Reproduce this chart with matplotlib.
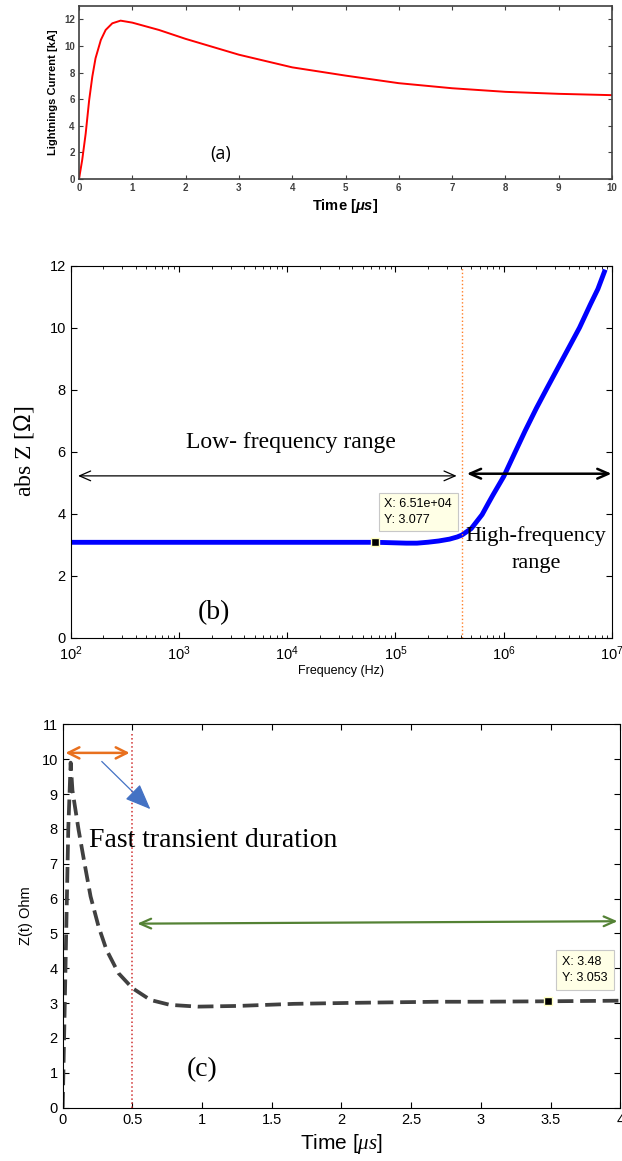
import matplotlib
matplotlib.use("Agg")
import matplotlib.pyplot as plt
import numpy as np

plt.rcParams["mathtext.fontset"] = "custom"
plt.rcParams["mathtext.rm"] = "Liberation Sans"
plt.rcParams["mathtext.it"] = "Liberation Serif:italic"
plt.rcParams["mathtext.bf"] = "Liberation Sans:bold:italic"
plt.rcParams["font.family"] = "Liberation Sans"

# (a) lightning current
t_a = [0, 0.06, 0.125, 0.19, 0.25, 0.31, 0.41, 0.5, 0.625, 0.78, 1.0, 1.5,
       2.0, 3.0, 4.0, 5.0, 6.0, 7.0, 8.0, 9.0, 10.0]
i_a = [0, 1.43, 3.4, 5.9, 7.7, 9.07, 10.45, 11.2, 11.7, 11.9, 11.75, 11.2,
       10.53, 9.34, 8.39, 7.77, 7.2, 6.82, 6.55, 6.4, 6.3]

# (b) impedance vs frequency
f_b = [1e2, 1e3, 1e4, 6.51e4, 7.94e4, 1e5, 1.26e5, 1.58e5, 2e5, 2.51e5, 3.16e5,
       3.72e5, 4.1e5, 5.01e5, 6.31e5, 7.24e5, 7.94e5, 8.91e5, 1e6, 1.26e6,
       1.58e6, 2e6, 2.51e6, 3.16e6, 3.98e6, 5.01e6, 6.31e6, 7.41e6, 8.5e6]
z_b = [3.077, 3.077, 3.077, 3.077, 3.07, 3.06, 3.05, 3.05, 3.08, 3.12, 3.18,
       3.25, 3.31, 3.52, 3.97, 4.35, 4.6, 4.9, 5.2, 5.95,
       6.68, 7.4, 8.05, 8.7, 9.35, 10.0, 10.75, 11.25, 11.8]

# (c) transient impedance
t_c = [0, 0.02, 0.04, 0.057, 0.07, 0.114, 0.157, 0.2, 0.257, 0.314, 0.4, 0.5,
       0.63, 0.77, 0.97, 1.26, 1.66, 2.11, 2.69, 2.97, 3.48, 4.0]
z_c = [0, 4.0, 8.0, 9.9, 9.1, 7.97, 7.0, 6.06, 5.2, 4.53, 3.86, 3.43,
       3.09, 2.95, 2.9, 2.92, 2.98, 3.01, 3.04, 3.04, 3.053, 3.07]

fig = plt.figure(figsize=(6.22, 11.61), dpi=100)

# ---------- panel (a) ----------
ax1 = fig.add_axes([79 / 622, 1 - 179 / 1161, (612 - 79) / 622, (179 - 6) / 1161])
ax1.plot(t_a, i_a, color="red", lw=1.4)
ax1.set_xlim(0, 10)
ax1.set_ylim(0, 13)
ax1.set_xticks(range(0, 11))
ax1.set_yticks(range(0, 13, 2))
ax1.tick_params(direction="in", top=True, right=True, length=3, width=0.8,
                labelsize=7, colors="#404040", pad=3)
for lab in ax1.get_xticklabels() + ax1.get_yticklabels():
    lab.set_fontweight("bold")
for sp in ax1.spines.values():
    sp.set_color("#404040")
    sp.set_linewidth(1.2)
ax1.set_ylabel("Lightnings Current [kA]", fontsize=8, fontweight="bold", labelpad=4)
ax1.set_xlabel(r"Time [$\mathbf{\mu s}$]", fontsize=10.5, fontweight="bold", labelpad=3)
ax1.text(2.65, 1.87, "(a)", fontsize=13, ha="center", va="center", family="Open Sans")

# ---------- panel (b) ----------
ax2 = fig.add_axes([70.7 / 622, 1 - 637.7 / 1161, (612 - 70.7) / 622, (637.7 - 265.7) / 1161])
ax2.semilogx(f_b, z_b, color="#0000ff", lw=3.5)
ax2.set_xlim(1e2, 1e7)
ax2.set_ylim(0, 12)
ax2.set_yticks(range(0, 13, 2))
ax2.tick_params(which="both", direction="in", top=True, right=True, labelsize=10.5)
ax2.tick_params(which="major", length=4)
ax2.tick_params(which="minor", length=2.5)
ax2.tick_params(axis="x", pad=5)
ax2.set_xlabel("Frequency (Hz)", fontsize=9, labelpad=1)
ax2.set_ylabel(r"abs Z [$\Omega$]", fontsize=17, family="Liberation Serif", labelpad=10)
ax2.axvline(4.1e5, color="#ff7f27", ls=":", lw=1)
ax2.annotate("", xy=(1.1e2, 5.22), xytext=(3.9e5, 5.22),
             arrowprops=dict(arrowstyle="<->,head_length=0.8,head_width=0.35", color="black", lw=0.9))
ax2.annotate("", xy=(4.3e5, 5.29), xytext=(1.05e7, 5.29),
             arrowprops=dict(arrowstyle="<->,head_length=0.8,head_width=0.35", color="black", lw=1.8),
             annotation_clip=False)
ax2.text(10 ** 4.03, 6.3, "Low- frequency range", fontsize=17, family="Liberation Serif",
         ha="center", va="center")
ax2.text(10 ** 6.3, 2.85, "High-frequency\nrange", fontsize=16, family="Liberation Serif",
         ha="center", va="center", linespacing=1.6)
ax2.text(10 ** 3.32, 0.8, "(b)", fontsize=20, family="Liberation Serif", ha="center", va="center")
ax2.plot([6.51e4], [3.077], "s", color="black", ms=6, mec="#ffffc0", mew=1)
ax2.text(7.9e4, 4.5, "X: 6.51e+04\nY: 3.077", fontsize=9, va="top", ha="left", linespacing=1.4,
         bbox=dict(boxstyle="square,pad=0.45", fc="#ffffe6", ec="#c8c8c8", lw=0.8))

# ---------- panel (c) ----------
ax3 = fig.add_axes([62.7 / 622, 1 - 1107.7 / 1161, (620.3 - 62.7) / 622, (1107.7 - 724.3) / 1161])
ax3.plot(t_c, z_c, color="#404040", lw=2.7, ls=(0, (4.2, 1.8)))
ax3.set_xlim(0, 4)
ax3.set_ylim(0, 11)
ax3.set_xticks(np.arange(0, 4.01, 0.5))
ax3.set_xticklabels(["0", "0.5", "1", "1.5", "2", "2.5", "3", "3.5", "4"])
ax3.set_yticks(range(0, 12))
ax3.tick_params(direction="in", top=True, right=True, labelsize=10.5, length=4)
ax3.set_ylabel("Z(t) Ohm", fontsize=10.5, labelpad=6)
ax3.set_xlabel(r"Time [$\mathit{\mu s}$]", fontsize=15, labelpad=4)
ax3.plot([0.5, 0.5], [0, 10.72], color="#d03030", ls=":", lw=1.1)
ax3.annotate("", xy=(0.0, 10.18), xytext=(0.5, 10.18),
             arrowprops=dict(arrowstyle="<->,head_length=0.8,head_width=0.4", color="#e8701e", lw=1.8),
             annotation_clip=False)
ax3.annotate("", xy=(0.643, 8.51), xytext=(0.266, 9.99),
             arrowprops=dict(arrowstyle="-|>,head_length=1.6,head_width=0.65", color="#4472c4", lw=0.9))
ax3.annotate("", xy=(0.515, 5.28), xytext=(4.0, 5.35),
             arrowprops=dict(arrowstyle="<->,head_length=0.8,head_width=0.35", color="#548235", lw=1.6),
             annotation_clip=False)
ax3.text(0.186, 7.66, "Fast transient duration", fontsize=20, family="Liberation Serif",
         ha="left", va="center")
ax3.text(1.0, 1.1, "(c)", fontsize=20, family="Liberation Serif", ha="center", va="center")
ax3.plot([3.48], [3.053], "s", color="black", ms=6, mec="#ffffc0", mew=1)
ax3.text(3.58, 4.35, "X: 3.48\nY: 3.053", fontsize=9, va="top", ha="left", linespacing=1.4,
         bbox=dict(boxstyle="square,pad=0.5", fc="#ffffe6", ec="#c8c8c8", lw=0.8))

fig.savefig("out.png", dpi=100)
